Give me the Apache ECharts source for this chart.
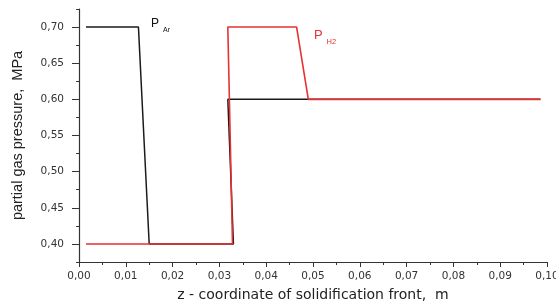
<!DOCTYPE html>
<html>
<head>
<meta charset="utf-8">
<script src="https://cdn.jsdelivr.net/npm/echarts@6/dist/echarts.min.js"></script>
<style>
  html, body { margin: 0; padding: 0; background: #fff; }
  #main { width: 556px; height: 303px; }
</style>
</head>
<body>
<div id="main"></div>
<script>
// P_Ar curve (black)
var arX = [0.0015, 0.0127, 0.0150, 0.0330, 0.0318, 0.0986];
var arY = [0.70, 0.70, 0.40, 0.40, 0.60, 0.60];
// P_H2 curve (red)
var h2X = [0.0015, 0.0328, 0.0318, 0.0465, 0.0490, 0.0986];
var h2Y = [0.40, 0.40, 0.70, 0.70, 0.60, 0.60];
// labelled ticks on the pressure axis
var yTicks = [0.40, 0.45, 0.50, 0.55, 0.60, 0.65, 0.70];

function zip(xs, ys) {
  return xs.map(function (x, i) { return [x, ys[i]]; });
}
function comma(v) {
  return v.toFixed(2).replace(".", ",");
}

var axisColor = "#333";
var font = "Liberation Sans";

var myChart = echarts.init(document.getElementById("main"));
myChart.setOption({
  backgroundColor: "#fff",
  animation: false,
  grid: { left: 79, right: 9, top: 9, bottom: 41, outerBoundsMode: "none" },
  xAxis: {
    type: "value",
    min: 0,
    max: 0.1,
    interval: 0.01,
    name: "z - coordinate of solidification front,  m",
    nameLocation: "middle",
    nameGap: 26,
    nameTextStyle: { fontFamily: "DejaVu Sans", fontSize: 14, color: "#222" },
    axisLine: { lineStyle: { color: axisColor, width: 1.2 } },
    axisTick: { length: 5, lineStyle: { color: axisColor } },
    minorTick: { show: true, splitNumber: 2, length: 3, lineStyle: { color: axisColor } },
    splitLine: { show: false },
    axisLabel: {
      margin: 9,
      fontFamily: "DejaVu Sans",
      fontSize: 10.5,
      color: "#333",
      formatter: comma,
    },
  },
  yAxis: [
    {
      // minor ticks every 0.025
      type: "value",
      min: 0.375,
      max: 0.725,
      interval: 0.025,
      position: "left",
      name: "partial gas pressure,  MPa",
      nameLocation: "middle",
      nameGap: 54,
      nameTextStyle: { fontFamily: font, fontSize: 14.5, color: "#222" },
      axisLine: { show: true, lineStyle: { color: axisColor, width: 1.2 } },
      axisTick: { length: 3, lineStyle: { color: axisColor } },
      axisLabel: { show: false },
      splitLine: { show: false },
    },
    {
      // major ticks + labels
      type: "value",
      min: 0.375,
      max: 0.725,
      position: "left",
      axisLine: { show: false },
      axisTick: { show: true, length: 7, customValues: yTicks, lineStyle: { color: axisColor } },
      axisLabel: {
        margin: 15,
        fontFamily: "DejaVu Sans",
        fontSize: 10.5,
        color: "#333",
        customValues: yTicks,
        formatter: comma,
      },
      splitLine: { show: false },
    },
  ],
  series: [
    {
      name: "P_Ar",
      type: "line",
      data: zip(arX, arY),
      symbol: "none",
      lineStyle: { color: "#1a1a1a", width: 1.5 },
      markPoint: {
        symbol: "circle",
        symbolSize: 0,
        data: [{ coord: [0.0154, 0.7025] }],
        label: {
          show: true,
          position: "right",
          distance: 0,
          formatter: "{p|P}{s|Ar}",
          rich: {
            p: { fontFamily: font, fontSize: 12, color: "#111", padding: [0, 0, 4, 0] },
            s: { fontFamily: font, fontSize: 7, color: "#111", verticalAlign: "bottom", padding: [0, 0, 0, 4] },
          },
        },
      },
    },
    {
      name: "P_H2",
      type: "line",
      data: zip(h2X, h2Y),
      symbol: "none",
      lineStyle: { color: "#e63232", width: 1.6 },
      markPoint: {
        symbol: "circle",
        symbolSize: 0,
        data: [{ coord: [0.0502, 0.6856] }],
        label: {
          show: true,
          position: "right",
          distance: 0,
          formatter: "{p|P}{s|H2}",
          rich: {
            p: { fontFamily: font, fontSize: 13, color: "#e63232", padding: [0, 0, 4, 0] },
            s: { fontFamily: font, fontSize: 7.5, color: "#e63232", verticalAlign: "bottom", padding: [0, 0, 0, 4] },
          },
        },
      },
    },
  ],
});
</script>
</body>
</html>
